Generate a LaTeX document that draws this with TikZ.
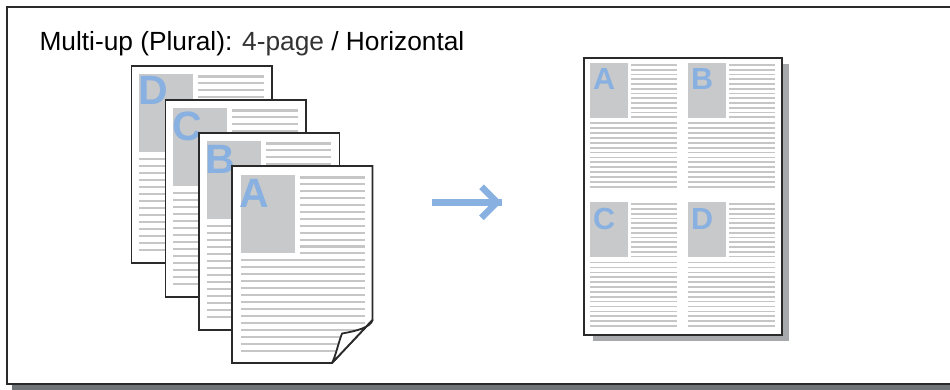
\documentclass[tikz,border=0pt]{standalone}
\usepackage{fontspec}
\setmainfont{Liberation Sans}
\definecolor{lineg}{HTML}{C6C6C6}
\definecolor{boxg}{HTML}{C8C9CB}
\definecolor{letb}{HTML}{88B0E0}
\definecolor{edgec}{HTML}{2A2A2A}
\definecolor{shad}{HTML}{A8A9AD}
\definecolor{fshad}{HTML}{6F7478}
\definecolor{titleg}{HTML}{333333}
\tikzset{
  pagebox/.style={draw=edgec, line width=1.8pt, fill=white, inner sep=0pt, anchor=north west,
                  minimum width=140.5pt, minimum height=197pt},
  bigpage/.style={draw=edgec, line width=2pt, fill=white, inner sep=0pt, anchor=north west,
                  minimum width=197.4pt, minimum height=277.3pt},
  textline/.style={draw=lineg, line width=2.1pt},
  smallline/.style={draw=lineg, line width=1.7pt},
  bigletter/.style={text=letb, inner sep=0pt, anchor=base west,
                    font=\fontsize{41}{41}\selectfont\bfseries},
  smallletter/.style={text=letb, inner sep=0pt, anchor=base west,
                    font=\fontsize{30.5}{30.5}\selectfont\bfseries},
  frameline/.style={draw=edgec, line width=2pt},
  arrowline/.style={draw=letb, line width=6.6pt}
}
\newcommand\pagebody[2]{%
  \fill[boxg] (8.5,9) rectangle (62.5,86.5);
  \foreach \i in {0,...,11} \draw[textline] (67.5,11.5+6.9*\i) -- (133,11.5+6.9*\i);
  \foreach \i in {0,...,13} \draw[textline] (8.5,94+7*\i) -- (133,94+7*\i);
  \node[bigletter] (#2) at (7.5,#1) {\MakeUppercase{#2}};
}
\newcommand\quadrant[1]{%
  \fill[boxg] (0,0) rectangle (38,55);
  \foreach \i in {0,...,11} \draw[smallline] (41,2.3+4.75*\i) -- (86.7,2.3+4.75*\i);
  \foreach \i in {0,...,13} \draw[smallline] (0,60.6+4.88*\i) -- (86.7,60.6+4.88*\i);
  \node[smallletter] (q#1) at (3,27) {#1};
}
\begin{document}
\begin{tikzpicture}[x=1pt,y=-1pt]
\useasboundingbox (0,0) rectangle (950,389);
\clip (0,0) rectangle (950,389);
% outer frame
\fill[fshad] (12,384.5) rectangle (960,390);
\draw[frameline] (960,7) -- (6.5,7) -- (6.5,384) -- (960,384);
% title
\node[anchor=base west, inner sep=0pt, font=\fontsize{26.3}{30}\selectfont] (title) at (39.3,50)
  {Multi-up (Plural): {\color{titleg}4-page} / Horizontal};
% stacked pages D, C, B
\node[pagebox] (pD) at (130.5,65) {};
\begin{scope}[shift={(pD.north west)}] \pagebody{39}{d} \end{scope}
\node[pagebox] (pC) at (164.5,99) {};
\begin{scope}[shift={(pC.north west)}] \pagebody{41}{c} \end{scope}
\node[pagebox] (pB) at (198,132) {};
\begin{scope}[shift={(pB.north west)}] \pagebody{41}{b} \end{scope}
% front page A with folded corner
\begin{scope}[shift={(232,166)}]
  \coordinate (aTL) at (0,0);
  \coordinate (aTR) at (140.5,0);
  \coordinate (aFR) at (140.5,154);
  \coordinate (aFB) at (100,197);
  \coordinate (aBL) at (0,197);
  \coordinate (aTip) at (110,167.5);
  \fill[white] (aTL) -- (aTR) -- (aFR) -- (aFB) -- (aBL) -- cycle;
  \begin{scope}
    \clip (aTL) -- (aTR) -- (aFR) -- (aFB) -- (aBL) -- cycle;
    \pagebody{41}{a}
  \end{scope}
  \draw[draw=edgec, line width=1.8pt, line join=miter] (aTL) -- (aTR) -- (aFR) -- (aFB) -- (aBL) -- cycle;
  \draw[draw=edgec, line width=1.8pt, fill=white, line join=round]
    (aFR) .. controls (139,161) and (125,165) .. (aTip)
          .. controls (106,178) and (104,189) .. (aFB) -- cycle;
\end{scope}
% arrow
\coordinate (arS) at (431.7,202.3);
\coordinate (arE) at (501.7,202.3);
\coordinate (arT) at (497,202.3);
\coordinate (arU) at (481.5,186.8);
\coordinate (arD) at (481.5,217.8);
\draw[arrowline] (arS) -- (arE);
\draw[arrowline, line join=miter] (arU) -- (arT) -- (arD);
% result page
\fill[shad] (592.7,64) rectangle (789.3,341);
\node[bigpage] (res) at (583.3,56.7) {};
\begin{scope}[shift={(590,62.7)}] \quadrant{A} \end{scope}
\begin{scope}[shift={(688,62.7)}] \quadrant{B} \end{scope}
\begin{scope}[shift={(590,202)}] \quadrant{C} \end{scope}
\begin{scope}[shift={(688,202)}] \quadrant{D} \end{scope}
\end{tikzpicture}
\end{document}
